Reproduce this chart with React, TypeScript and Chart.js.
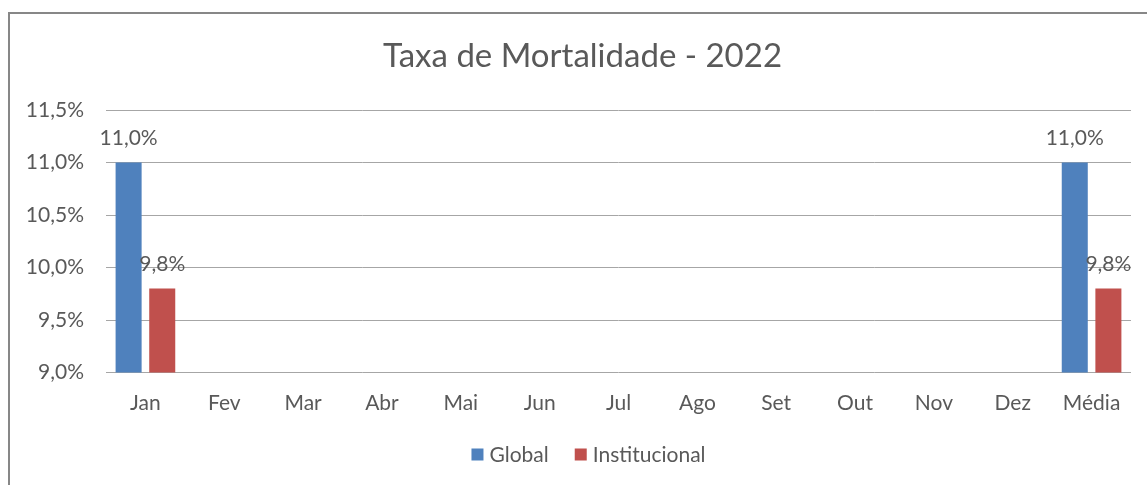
import React, { useEffect, useRef } from "react";
import { Chart, registerables } from "chart.js";

Chart.register(...registerables);

const title = "Taxa de Mortalidade - 2022";
const categories = ["Jan", "Fev", "Mar", "Abr", "Mai", "Jun", "Jul", "Ago", "Set", "Out", "Nov", "Dez", "Média"];
const globalValues: (number | null)[] = [11.0, null, null, null, null, null, null, null, null, null, null, null, 11.0];
const institucionalValues: (number | null)[] = [9.8, null, null, null, null, null, null, null, null, null, null, null, 9.8];
const seriesNames = ["Global", "Institucional"];
const seriesColors = ["#4F81BD", "#C0504D"];
const yMin = 9.0;
const yMax = 11.5;
const yStep = 0.5;

const FONT = "Lato";
const TEXT = "#595959";

const fmt = (v: number) => v.toFixed(1).replace(".", ",") + "%";

const chartTitle = {
  id: "chartTitle",
  afterDraw(chart: any) {
    const ctx = chart.ctx;
    ctx.save();
    ctx.font = `33px ${FONT}`;
    ctx.fillStyle = TEXT;
    ctx.textAlign = "center";
    ctx.textBaseline = "middle";
    ctx.fillText(title, chart.width / 2 + 4, 42.5);
    ctx.restore();
  },
};

const valueLabels = {
  id: "valueLabels",
  afterDatasetsDraw(chart: any) {
    const ctx = chart.ctx;
    ctx.save();
    ctx.font = `21px ${FONT}`;
    ctx.fillStyle = TEXT;
    ctx.textAlign = "center";
    ctx.textBaseline = "alphabetic";
    chart.data.datasets.forEach((ds: any, i: number) => {
      const meta = chart.getDatasetMeta(i);
      meta.data.forEach((bar: any, j: number) => {
        const v = ds.data[j];
        if (v == null) return;
        ctx.fillText(fmt(v), bar.x, bar.y - 18);
      });
    });
    ctx.restore();
  },
};

// legend drawn below the axis labels, like the spreadsheet legend
const customLegend = {
  id: "customLegend",
  afterDraw(chart: any) {
    const ctx = chart.ctx;
    const box = 12;
    const gapText = 6;
    const gapItem = 26;
    ctx.save();
    ctx.font = `21px ${FONT}`;
    const items = chart.data.datasets.map((ds: any) => ({
      text: ds.label,
      color: ds.backgroundColor,
      w: ctx.measureText(ds.label).width,
    }));
    const total = items.reduce((s: number, it: any) => s + box + gapText + it.w, 0) + gapItem * (items.length - 1);
    const cx = chart.chartArea.left + (chart.chartArea.right - chart.chartArea.left) / 2 - 30;
    const cy = chart.chartArea.bottom + 82;
    let x = cx - total / 2;
    ctx.textBaseline = "middle";
    ctx.textAlign = "left";
    items.forEach((it: any) => {
      ctx.fillStyle = it.color;
      ctx.fillRect(x, cy - box / 2, box, box);
      x += box + gapText;
      ctx.fillStyle = TEXT;
      ctx.fillText(it.text, x, cy + 1);
      x += it.w + gapItem;
    });
    ctx.restore();
  },
};

export default function App() {
  const ref = useRef<HTMLCanvasElement | null>(null);
  useEffect(() => {
    if (!ref.current) return;
    const chart = new Chart(ref.current, {
      type: "bar",
      data: {
        labels: categories,
        datasets: [
          {
            label: seriesNames[0],
            data: globalValues,
            backgroundColor: seriesColors[0],
            categoryPercentage: 0.853,
            barPercentage: 0.774,
          },
          {
            label: seriesNames[1],
            data: institucionalValues,
            backgroundColor: seriesColors[1],
            categoryPercentage: 0.853,
            barPercentage: 0.774,
          },
        ],
      },
      options: {
        animation: false,
        responsive: false,
        maintainAspectRatio: false,
        layout: { padding: { left: 0, right: 16, top: 96, bottom: 98.5 } },
        plugins: {
          title: { display: false },
          legend: { display: false },
          tooltip: { enabled: false },
        },
        scales: {
          x: {
            afterFit: (scale: any) => {
              scale.height = 43;
            },
            grid: { display: false, drawTicks: false },
            border: { display: false },
            ticks: {
              color: TEXT,
              font: { family: FONT, size: 21 },
              padding: 18,
              maxRotation: 0,
              autoSkip: false,
            },
          },
          y: {
            min: yMin,
            max: yMax,
            afterFit: (scale: any) => {
              scale.width = 96;
            },
            grid: { color: "#a6a6a6", lineWidth: 1, drawTicks: false },
            border: { display: false },
            ticks: {
              stepSize: yStep,
              color: TEXT,
              font: { family: FONT, size: 21 },
              padding: 22,
              callback: (v: any) => fmt(Number(v)),
            },
          },
        },
      },
      plugins: [valueLabels, customLegend, chartTitle],
    });
    return () => chart.destroy();
  }, []);

  return (
    <div style={{ position: "fixed", left: 0, top: 0, width: 1147, height: 485, overflow: "hidden", background: "#fff" }}>
      <div
        style={{
          position: "absolute",
          left: 8,
          top: 12,
          width: 1160,
          height: 520,
          border: "2px solid #878787",
        }}
      />
      <canvas
        ref={ref}
        width={1137}
        height={500}
        style={{ position: "absolute", left: 10, top: 14, width: 1137, height: 500 }}
      />
    </div>
  );
}
